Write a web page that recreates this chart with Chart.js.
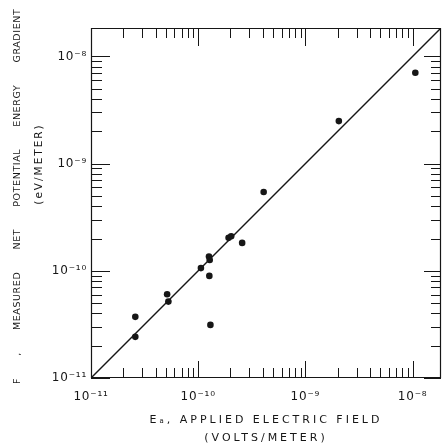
<!DOCTYPE html>
<html>
<head>
<meta charset="utf-8">
<script src="https://cdn.jsdelivr.net/npm/chart.js@4/dist/chart.umd.min.js"></script>
<style>
  html, body { margin: 0; padding: 0; background: #ffffff; }
  #wrap { width: 445px; height: 448px; }
</style>
</head>
<body>
<div id="wrap"><canvas id="c" width="445" height="448"></canvas></div>
<script>
// ---- data ----
const appliedField = [2.59e-11, 2.59e-11, 5.13e-11, 5.27e-11, 1.06e-10, 1.26e-10, 1.28e-10, 1.27e-10, 1.30e-10, 1.92e-10, 2.03e-10, 2.57e-10, 4.08e-10, 2.05e-9, 1.06e-8];
const measuredGradient = [3.72e-11, 2.42e-11, 6.04e-11, 5.16e-11, 1.06e-10, 1.36e-10, 1.26e-10, 8.96e-11, 3.13e-11, 2.03e-10, 2.10e-10, 1.82e-10, 5.44e-10, 2.49e-9, 7.03e-9];
const referenceLineX = [1e-11, 1.84e-8];
const referenceLineY = [1e-11, 1.84e-8];
const axisMin = 1e-11;
const axisMax = 1.84e-8;
const decadeTicks = [1e-11, 1e-10, 1e-9, 1e-8];
const decadeLabels = ['10\u207B\u00B9\u00B9', '10\u207B\u00B9\u2070', '10\u207B\u2079', '10\u207B\u2078'];
const minorSignificands = [2, 3, 4, 5, 6, 7, 8, 9];
const xTitleLines = ['E\u2090, APPLIED ELECTRIC FIELD', '(VOLTS/METER)'];
const yTitleLines = ['F , MEASURED NET POTENTIAL ENERGY GRADIENT', '(eV/METER)'];

const INK = '#161616';

const points = appliedField.map((x, i) => ({ x: x, y: measuredGradient[i] }));
const linePts = referenceLineX.map((x, i) => ({ x: x, y: referenceLineY[i] }));

function labelFor(value) {
  const i = decadeTicks.findIndex(t => Math.abs(Math.log10(t) - Math.log10(value)) < 1e-6);
  return i >= 0 ? decadeLabels[i] : '';
}

// letter spacing: x title (grid layer, before datasets), tick labels (z=1, after datasets)
const spacingPlugin = {
  id: 'spacing',
  beforeDraw(chart) { chart.ctx.letterSpacing = '3px'; },
  beforeDatasetsDraw(chart) { chart.ctx.letterSpacing = '0px'; },
  afterDatasetsDraw(chart) { chart.ctx.letterSpacing = '0.8px'; }
};

// frame + inward log ticks on all four sides, and the rotated y title
const framePlugin = {
  id: 'frame',
  afterDraw(chart) {
    const { ctx, chartArea: a, scales: { x, y } } = chart;
    ctx.save();
    ctx.letterSpacing = '0px';
    ctx.strokeStyle = INK;
    ctx.lineWidth = 1.2;
    ctx.beginPath();
    ctx.rect(a.left + 0.5, a.top + 0.5, a.right - a.left - 1, a.bottom - a.top - 1);
    ctx.stroke();
    ctx.lineWidth = 1;
    ctx.beginPath();
    decadeTicks.forEach(d => {
      [1].concat(minorSignificands).forEach(s => {
        const v = d * s;
        if (v < axisMin * 0.999 || v > axisMax) return;
        const major = s === 1;
        const px = Math.round(x.getPixelForValue(v)) + 0.5;
        const py = Math.round(y.getPixelForValue(v)) + 0.5;
        // bottom (up), top (down)
        ctx.moveTo(px, a.bottom); ctx.lineTo(px, a.bottom - (major ? 17 : 10));
        ctx.moveTo(px, a.top); ctx.lineTo(px, a.top + (major ? 18 : 10));
        // left (right), right (left)
        ctx.moveTo(a.left, py); ctx.lineTo(a.left + (major ? 19 : 11), py);
        ctx.moveTo(a.right, py); ctx.lineTo(a.right - (major ? 17 : 10), py);
      });
    });
    ctx.stroke();
    ctx.restore();

    // y-axis title (two rotated lines, reading bottom to top)
    ctx.save();
    ctx.fillStyle = INK;
    ctx.textAlign = 'left';
    ctx.textBaseline = 'middle';
    ctx.font = '9.5px "DejaVu Sans"';
    ctx.letterSpacing = '0.6px';
    ctx.wordSpacing = '18.5px';
    ctx.translate(18, 384);
    ctx.rotate(-Math.PI / 2);
    ctx.fillText(yTitleLines[0], 0, 0);
    ctx.restore();
    ctx.save();
    ctx.fillStyle = INK;
    ctx.textAlign = 'center';
    ctx.textBaseline = 'middle';
    ctx.font = '10.5px "DejaVu Sans"';
    ctx.letterSpacing = '2px';
    ctx.translate(39, 164);
    ctx.rotate(-Math.PI / 2);
    ctx.fillText(yTitleLines[1], 0, 0);
    ctx.restore();
  }
};

const tickFont = { family: 'DejaVu Sans', size: 12 };

new Chart(document.getElementById('c'), {
  type: 'scatter',
  data: {
    datasets: [
      {
        type: 'line',
        data: linePts,
        borderColor: INK,
        borderWidth: 1.4,
        pointRadius: 0,
        fill: false,
        tension: 0
      },
      {
        data: points,
        pointRadius: 3.3,
        pointBackgroundColor: INK,
        pointBorderColor: INK,
        pointBorderWidth: 0
      }
    ]
  },
  options: {
    responsive: false,
    animation: false,
    devicePixelRatio: 1,
    layout: { padding: { top: 28, right: 2, left: 0, bottom: 0 } },
    plugins: { legend: { display: false }, tooltip: { enabled: false } },
    scales: {
      x: {
        type: 'logarithmic',
        position: 'bottom',
        min: axisMin,
        max: axisMax,
        afterBuildTicks: s => { s.ticks = decadeTicks.map(v => ({ value: v, major: true })); },
        afterFit: s => { s.height = 70; },
        grid: { display: false, drawTicks: false },
        border: { display: false },
        ticks: {
          z: 1,
          autoSkip: false,
          maxRotation: 0,
          padding: 12,
          color: INK,
          font: tickFont,
          callback: v => labelFor(v)
        },
        title: {
          display: true,
          text: xTitleLines,
          color: INK,
          font: { family: 'DejaVu Sans', size: 11, lineHeight: '18px' },
          padding: { top: 0, bottom: 1 }
        }
      },
      y: {
        type: 'logarithmic',
        position: 'left',
        min: axisMin,
        max: axisMax,
        afterBuildTicks: s => { s.ticks = decadeTicks.map(v => ({ value: v, major: true })); },
        afterFit: s => { s.width = 91; },
        grid: { display: false, drawTicks: false },
        border: { display: false },
        ticks: {
          z: 1,
          autoSkip: false,
          padding: 4,
          color: INK,
          font: tickFont,
          callback: v => labelFor(v)
        },
        title: { display: false }
      }
    }
  },
  plugins: [spacingPlugin, framePlugin]
});
</script>
</body>
</html>
